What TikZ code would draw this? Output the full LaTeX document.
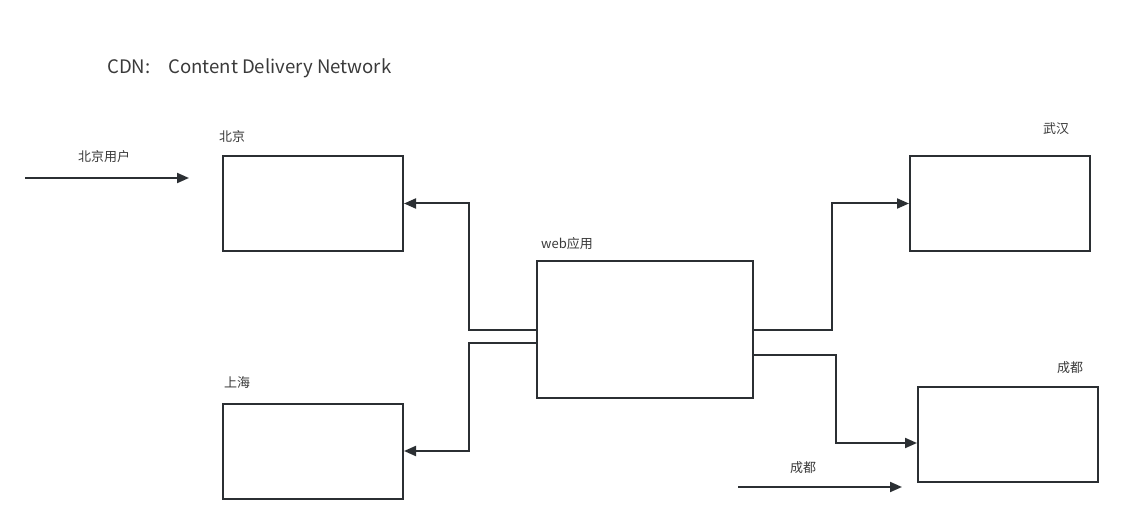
\documentclass[tikz,border=0pt]{standalone}
\usepackage{fontspec}
\setmainfont{Noto Sans CJK SC}
\usetikzlibrary{arrows.meta}
\definecolor{linec}{HTML}{2B2F33}
\definecolor{textc}{HTML}{3A3A3A}

\begin{document}
\begin{tikzpicture}[x=1pt,y=-1pt,
    box/.style = {draw=linec, line width=2pt, inner sep=0pt, minimum width=180pt, minimum height=95pt},
    lbl/.style = {text=textc, inner sep=0pt, font=\fontsize{13}{15}\selectfont},
    conn/.style = {draw=linec, line width=2pt, -{Triangle[length=12pt,width=10pt]}}]
            \useasboundingbox (0,0) rectangle (1144,524);

            \node[text=textc, inner sep=0pt, anchor=west, font=\fontsize{18.6}{22}\selectfont](title) at (107,68.5){CDN:\hspace{0.95em}Content Delivery Network};

            \node[box](bj) at (313,203.5){};
            \node[box](sh) at (313,451){};
            \node[box, minimum width=216pt, minimum height=137pt](web) at (645,329.5){};
            \node[box](wh) at (1000,203.5){};
            \node[box](cd) at (1008,434.5){};

            \node[lbl](bjl) at (232,137){北京};
            \node[lbl](shl) at (237,383){上海};
            \node[lbl](webl) at (567,244){web应用};
            \node[lbl](whl) at (1056,129){武汉};
            \node[lbl](cdl) at (1070,368){成都};

            \coordinate (bjuser1) at (25,178);
            \coordinate (bjuser2) at (189,178);
            \node[lbl](bjuserl) at (104,157){北京用户};
            \coordinate (cduser1) at (738,487);
            \coordinate (cduser2) at (902,487);
            \node[lbl](cduserl) at (803,468){成都};

            \draw[conn] (bjuser1) -- (bjuser2);
            \draw[conn] (cduser1) -- (cduser2);

            \draw[conn] (web.west) -- ++(-67,0) |- (bj.east);
            \draw[conn] ([yshift=-13pt]web.west) -- ++(-67,0) |- (sh.east);
            \draw[conn] (web.east) -- ++(78,0) |- (wh.west);
            \draw[conn] ([yshift=-25pt]web.east) -- ++(82,0) |- ([yshift=-8.5pt]cd.west);
        \end{tikzpicture}
\end{document}
